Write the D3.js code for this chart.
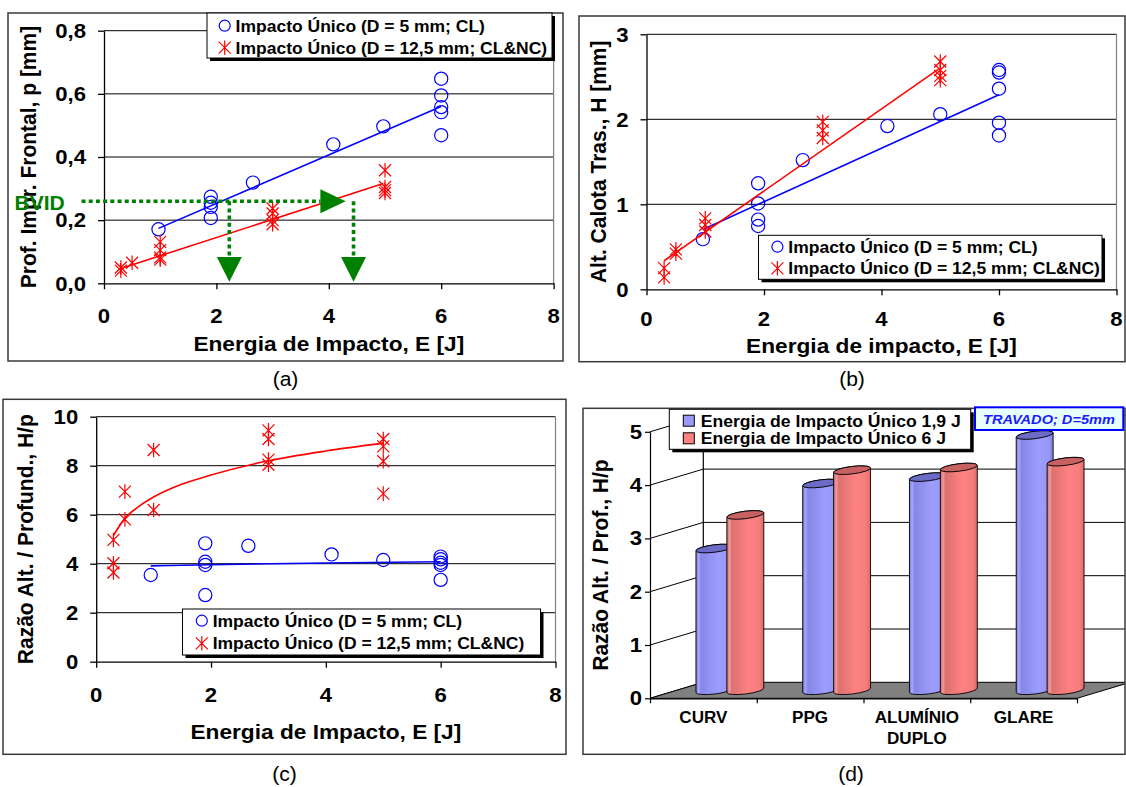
<!DOCTYPE html>
<html><head><meta charset="utf-8">
<script src="https://cdn.jsdelivr.net/npm/d3@7"></script>
<style>body{margin:0;background:#fff}svg{display:block}</style>
</head><body>
<svg id="c" width="1126" height="787"></svg>
<script>
// ---------------- DATA ----------------
const xTicks = [0, 2, 4, 6, 8];
const legendLabels = ["Impacto Único (D = 5 mm; CL)", "Impacto Único (D = 12,5 mm; CL&NC)"];

// (a) front indentation depth p [mm]
const aYTicks = [0, 0.2, 0.4, 0.6, 0.8];
const aYLabels = ["0,0", "0,2", "0,4", "0,6", "0,8"];
const aBlueE = [0.97, 1.9, 1.9, 1.9, 1.9, 2.65, 4.08, 4.97, 6, 6, 6, 6, 6];
const aBlueP = [0.171, 0.274, 0.255, 0.242, 0.207, 0.319, 0.44, 0.497, 0.648, 0.595, 0.558, 0.542, 0.469];
const aRedE = [0.3, 0.3, 0.5, 1, 1, 1, 1, 3, 3, 3, 3, 5, 5, 5, 5];
const aRedP = [0.05, 0.04, 0.065, 0.131, 0.105, 0.082, 0.075, 0.237, 0.221, 0.2, 0.187, 0.358, 0.305, 0.295, 0.286];
const aBlueFitE = [0.97, 6];
const aBlueFitP = [0.174, 0.56];
const aRedFitE = [0.3, 4.97];
const aRedFitP = [0.047, 0.316];
const bvidLevel = 0.26;
const bvidEnergies = [2.23, 4.44];

// (b) back cap height H [mm]
const bYTicks = [0, 1, 2, 3];
const bYLabels = ["0", "1", "2", "3"];
const bBlueE = [0.96, 1.9, 1.9, 1.9, 1.9, 2.66, 4.1, 5, 6, 6, 6, 6, 6];
const bBlueH = [0.59, 1.247, 1.01, 0.82, 0.745, 1.52, 1.92, 2.06, 2.58, 2.55, 2.36, 1.96, 1.81];
const bRedE = [0.3, 0.3, 0.5, 0.5, 1, 1, 1, 3, 3, 3, 5, 5, 5, 5];
const bRedH = [0.25, 0.14, 0.47, 0.42, 0.835, 0.756, 0.68, 1.97, 1.87, 1.78, 2.68, 2.58, 2.51, 2.46];
const bBlueFitE = [0.97, 6];
const bBlueFitH = [0.706, 2.29];
const bRedFitE = [0.3, 4.97];
const bRedFitH = [0.336, 2.59];

// (c) ratio H/p
const cYTicks = [0, 2, 4, 6, 8, 10];
const cYLabels = ["0", "2", "4", "6", "8", "10"];
const cBlueE = [0.95, 1.9, 1.9, 1.9, 1.9, 2.65, 4.1, 5, 6, 6, 6, 6, 6];
const cBlueR = [3.54, 4.83, 4.08, 3.95, 2.72, 4.73, 4.38, 4.15, 4.29, 4.18, 4.04, 3.95, 3.34];
const cRedE = [0.3, 0.3, 0.3, 0.5, 0.5, 1, 1, 3, 3, 3, 3, 5, 5, 5, 5];
const cRedR = [4.97, 4.02, 3.64, 6.94, 5.81, 8.64, 6.19, 9.44, 9.09, 8.25, 8.04, 9.09, 8.79, 8.18, 6.86];
const cBlueFitE = [0.95, 2, 4, 6];
const cBlueFitR = [3.91, 3.96, 4.03, 4.08];
const cRedFitE = [0.3, 0.5, 0.75, 1, 1.5, 2, 3, 4, 5];
const cRedFitR = [5.15, 5.85, 6.35, 6.72, 7.25, 7.62, 8.2, 8.6, 8.92];

// (d) 3D cylinders
const dCategories = [["CURV"], ["PPG"], ["ALUMÍNIO", "DUPLO"], ["GLARE"]];
const dSeriesNames = ["Energia de Impacto Único 1,9 J", "Energia de Impacto Único 6 J"];
const dValues19 = [2.66, 3.88, 4.0, 4.79];
const dValues6 = [3.29, 4.13, 4.18, 4.29];
const dYTicks = [0, 1, 2, 3, 4, 5];
const dNote = "TRAVADO; D=5mm";

// ---------------- DRAWING ----------------
const FONT = '"Liberation Sans", Arial, Helvetica, sans-serif';
const SX = 1.08;
const BLUE = "#0000ff", RED = "#ff0000", GREEN = "#008000";
const svg = d3.select("#c");
svg.append("rect").attr("width", 1126).attr("height", 787).attr("fill", "#fff");
const defs = svg.append("defs");

function label(g, x, y, s, o = {}) {
  const t = g.append("text")
    .attr("transform", `translate(${x},${y}) scale(${o.sx ?? SX},1)` + (o.rot ? ` rotate(${o.rot})` : ""))
    .attr("font-family", FONT).attr("font-size", o.size || 16)
    .attr("font-weight", o.weight || "bold")
    .attr("text-anchor", o.anchor || "start")
    .attr("fill", o.fill || "#000").text(s);
  if (o.style) t.attr("font-style", o.style);
  return t;
}
function starPath(cx, cy) {
  const d = 6, r = 7.3;
  return `M${cx - d},${cy - d}L${cx + d},${cy + d}M${cx - d},${cy + d}L${cx + d},${cy - d}M${cx},${cy - r}L${cx},${cy + r}`;
}

function scatterPanel(cfg) {
  const g = svg.append("g");
  const [fx, fy, fw, fh] = cfg.frame;
  g.append("rect").attr("x", fx).attr("y", fy).attr("width", fw).attr("height", fh)
    .attr("fill", "none").attr("stroke", "#3a3a3a").attr("stroke-width", 1.5);
  const x = d3.scaleLinear().domain([0, 8]).range([cfg.px0, cfg.px1]);
  const ymax = cfg.yTicks[cfg.yTicks.length - 1];
  const y = d3.scaleLinear().domain([0, ymax]).range([cfg.pyBottom, cfg.pyTop]);
  g.append("g").selectAll("line").data(cfg.yTicks.slice(1)).join("line")
    .attr("x1", x(0)).attr("x2", x(8)).attr("y1", d => y(d)).attr("y2", d => y(d))
    .attr("stroke", "#000").attr("stroke-width", 1);
  g.append("line").attr("x1", x(8)).attr("x2", x(8)).attr("y1", y(ymax)).attr("y2", y(0))
    .attr("stroke", "#808080").attr("stroke-width", 1.2);
  const xa = g.append("g").attr("transform", `translate(0,${y(0)})`)
    .call(d3.axisBottom(x).tickValues(xTicks).tickSize(6).tickSizeOuter(0).tickFormat(""));
  const ya = g.append("g").attr("transform", `translate(${x(0)},0)`)
    .call(d3.axisLeft(y).tickValues(cfg.yTicks).tickSize(6).tickSizeOuter(0).tickFormat(""));
  [xa, ya].forEach(a => a.selectAll("path,line").attr("stroke", "#000").attr("stroke-width", 1.3));
  xTicks.forEach(v => label(g, x(v), y(0) + cfg.tickGap, String(v), { size: 20.5, anchor: "middle" }));
  cfg.yTicks.forEach((v, i) => label(g, x(0) - 18, y(v) + 7.3, cfg.yLabels[i], { size: 20.5, anchor: "end" }));
  label(g, (x(0) + x(8)) / 2, cfg.xTitleY, cfg.xTitle, { size: 21, anchor: "middle" });
  label(g, cfg.yTitleX, (y(0) + y(ymax)) / 2, cfg.yTitle, { size: 21, anchor: "middle", rot: -90 });
  label(g, fx + fw / 2, cfg.tagY, cfg.tag, { size: 19.5, anchor: "middle", weight: "normal" });
  return { g, x, y };
}
function drawSeries(p, fitE, fitV, E, V, color, kind, curve) {
  const line = d3.line().x(d => p.x(d[0])).y(d => p.y(d[1])).curve(curve || d3.curveLinear);
  const pts = d3.zip(E, V);
  if (kind === "circle") {
    p.g.append("g").selectAll("circle").data(pts).join("circle")
      .attr("cx", d => p.x(d[0])).attr("cy", d => p.y(d[1])).attr("r", 6.6)
      .attr("fill", "none").attr("stroke", color).attr("stroke-width", 1.2);
  } else {
    p.g.append("g").selectAll("path").data(pts).join("path")
      .attr("d", d => starPath(p.x(d[0]), p.y(d[1])))
      .attr("fill", "none").attr("stroke", color).attr("stroke-width", 1.2);
  }
  p.g.append("path").attr("d", line(d3.zip(fitE, fitV)))
    .attr("fill", "none").attr("stroke", color).attr("stroke-width", 1.6);
}
function scatterLegend(g, x0, y0, w, h, rowY, markerX, textX) {
  g.append("rect").attr("x", x0 + 3).attr("y", y0 + 3).attr("width", w).attr("height", h).attr("fill", "#000");
  g.append("rect").attr("x", x0).attr("y", y0).attr("width", w).attr("height", h)
    .attr("fill", "#fff").attr("stroke", "#000").attr("stroke-width", 1);
  g.append("circle").attr("cx", markerX).attr("cy", rowY[0]).attr("r", 5.5)
    .attr("fill", "none").attr("stroke", BLUE).attr("stroke-width", 1.2);
  g.append("path").attr("d", starPath(markerX, rowY[1])).attr("fill", "none")
    .attr("stroke", RED).attr("stroke-width", 1.2);
  legendLabels.forEach((s, i) => label(g, textX, rowY[i] + 6, s, { size: 16.2 }));
}

// ----- Panel (a)
const pa = scatterPanel({
  frame: [8, 13, 555, 348], px0: 104, px1: 553.6, pyBottom: 283.3, pyTop: 30.7,
  yTicks: aYTicks, yLabels: aYLabels, tickGap: 39.5,
  xTitle: "Energia de Impacto, E [J]", xTitleY: 351,
  yTitle: "Prof. Impr. Frontal, p [mm]", yTitleX: 36, tag: "(a)", tagY: 386
});
drawSeries(pa, aBlueFitE, aBlueFitP, aBlueE, aBlueP, BLUE, "circle");
drawSeries(pa, aRedFitE, aRedFitP, aRedE, aRedP, RED, "star");
// BVID annotation
{
  const g = pa.g, x = pa.x, y = pa.y, yb = y(bvidLevel);
  const dash = { stroke: GREEN, "stroke-width": 3.6, "stroke-dasharray": "4 3.2" };
  const hl = g.append("line").attr("x1", x(-0.4)).attr("x2", x(3.85)).attr("y1", yb).attr("y2", yb);
  Object.entries(dash).forEach(([k, v]) => hl.attr(k, v));
  g.append("path").attr("d", `M${x(3.85)},${yb - 12}L${x(4.3)},${yb}L${x(3.85)},${yb + 12}Z`).attr("fill", GREEN);
  bvidEnergies.forEach(e => {
    const vl = g.append("line").attr("x1", x(e)).attr("x2", x(e)).attr("y1", yb).attr("y2", y(0.083));
    Object.entries(dash).forEach(([k, v]) => vl.attr(k, v));
    g.append("path").attr("d", `M${x(e) - 12.5},${y(0.083)}L${x(e) + 12.5},${y(0.083)}L${x(e)},${y(0.005)}Z`).attr("fill", GREEN);
  });
  label(g, 14.5, yb + 9, "BVID", { size: 19.5, fill: GREEN });
}
scatterLegend(pa.g, 207, 13, 345, 45, [25.7, 47.7], 224.7, 235.6);

// ----- Panel (b)
const pb = scatterPanel({
  frame: [579, 16, 546, 345.7], px0: 646.5, px1: 1116.5, pyBottom: 289.3, pyTop: 34.3,
  yTicks: bYTicks, yLabels: bYLabels, tickGap: 37,
  xTitle: "Energia de impacto, E [J]", xTitleY: 353,
  yTitle: "Alt. Calota Tras., H [mm]", yTitleX: 606, tag: "(b)", tagY: 386
});
drawSeries(pb, bBlueFitE, bBlueFitH, bBlueE, bBlueH, BLUE, "circle");
drawSeries(pb, bRedFitE, bRedFitH, bRedE, bRedH, RED, "star");
scatterLegend(pb.g, 758.5, 235.3, 343.5, 44, [246.7, 268.3], 777.4, 788.3);

// ----- Panel (c)
const pc = scatterPanel({
  frame: [3, 399.3, 563, 355], px0: 96.2, px1: 555.5, pyBottom: 661.7, pyTop: 416.7,
  yTicks: cYTicks, yLabels: cYLabels, tickGap: 40,
  xTitle: "Energia de Impacto, E [J]", xTitleY: 739,
  yTitle: "Razão Alt. / Profund., H/p", yTitleX: 33, tag: "(c)", tagY: 781
});
drawSeries(pc, cBlueFitE, cBlueFitR, cBlueE, cBlueR, BLUE, "circle", d3.curveMonotoneX);
drawSeries(pc, cRedFitE, cRedFitR, cRedE, cRedR, RED, "star", d3.curveMonotoneX);
scatterLegend(pc.g, 182.5, 609, 358, 46, [620.7, 643.3], 201.8, 212.7);

// ----- Panel (d)
{
  const g = svg.append("g");
  const F = [583, 408.3, 542, 346];
  g.append("clipPath").attr("id", "dclip").append("rect")
    .attr("x", F[0]).attr("y", F[1]).attr("width", F[2]).attr("height", F[3]);
  const DX = 53.3, DY = -16;
  const yF = d3.scaleLinear().domain([0, 5]).range([698.3, 431.8]);
  const keys = dCategories.map(c => c.join(" "));
  const xCat = d3.scaleBand().domain(keys).range([650, 1077]);
  const xLin = d3.scaleLinear().domain([0, keys.length]).range([650, 1077]);
  const inner = g.append("g").attr("clip-path", "url(#dclip)");
  // back wall
  inner.append("g").selectAll("line").data(dYTicks.slice(1)).join("line")
    .attr("x1", 650 + DX).attr("x2", 1140).attr("y1", d => yF(d) + DY).attr("y2", d => yF(d) + DY)
    .attr("stroke", "#000").attr("stroke-width", 1);
  inner.append("line").attr("x1", 650 + DX).attr("x2", 650 + DX)
    .attr("y1", yF(5) + DY).attr("y2", yF(0) + DY).attr("stroke", "#000").attr("stroke-width", 1.2);
  // side wall diagonals
  inner.append("g").selectAll("line").data(dYTicks).join("line")
    .attr("x1", 650).attr("x2", 650 + DX).attr("y1", d => yF(d)).attr("y2", d => yF(d) + DY)
    .attr("stroke", "#000").attr("stroke-width", 1);
  // floor
  const fl = [[650, yF(0)], [xLin(keys.length), yF(0)], [xLin(keys.length) + DX, yF(0) + DY], [650 + DX, yF(0) + DY]];
  inner.append("path").attr("d", "M" + fl.map(p => p.join(",")).join("L") + "Z")
    .attr("fill", "#808080").attr("stroke", "#000").attr("stroke-width", 1);
  // axes
  const ya = g.append("g").attr("transform", "translate(650,0)")
    .call(d3.axisLeft(yF).tickValues(dYTicks).tickSize(5).tickSizeOuter(0).tickFormat(""));
  const xa = g.append("g").attr("transform", `translate(0,${yF(0)})`)
    .call(d3.axisBottom(xLin).tickValues(d3.range(keys.length + 1)).tickSize(5).tickSizeOuter(0).tickFormat(""));
  [xa, ya].forEach(a => a.selectAll("path,line").attr("stroke", "#000").attr("stroke-width", 1.2));
  dYTicks.forEach(v => label(g, 642, yF(v) + 7, String(v), { size: 20.5, anchor: "end" }));
  dCategories.forEach((lines, i) => lines.forEach((s, j) =>
    label(g, xCat(keys[i]) + xCat.bandwidth() / 2, 723 + j * 20.6, s, { size: 15.8, anchor: "middle" })));
  label(g, 608, (yF(0) + yF(5)) / 2, "Razão Alt. / Prof., H/p", { size: 21, anchor: "middle", rot: -90 });
  label(g, F[0] + F[2] / 2 - 3, 781, "(d)", { size: 19.5, anchor: "middle", weight: "normal" });

  // gradients
  const grads = [
    ["gBlue", [[0, "#7676d4"], [0.07, "#a8a8ff"], [0.14, "#8686e6"], [0.6, "#9d9dff"], [0.88, "#9797f6"], [1, "#7c7cd8"]]],
    ["gRed", [[0, "#cf6666"], [0.07, "#f09a9a"], [0.14, "#dc7070"], [0.6, "#ff8282"], [0.88, "#f67c7c"], [1, "#d86c6c"]]]
  ];
  grads.forEach(([id, stops]) => {
    const lg = defs.append("linearGradient").attr("id", id).attr("x1", 0).attr("x2", 1).attr("y1", 0).attr("y2", 0);
    stops.forEach(s => lg.append("stop").attr("offset", s[0]).attr("stop-color", s[1]));
  });
  const topFill = ["#6c6cc6", "#c86262"];
  const offs = [-15.6, 15.3];
  const RX = 18.6, RY = 3.7, A = 7, ex = RX * Math.cos(A * Math.PI / 180), ey = RX * Math.sin(A * Math.PI / 180);
  const bars = [dValues19, dValues6].flatMap((vals, si) => vals.map((v, ci) => ({ si, ci, v })));
  const cyl = g.append("g").selectAll("g").data(bars).join("g");
  const cxOf = d => xCat(keys[d.ci]) + xCat.bandwidth() / 2 + DX / 2 + offs[d.si];
  const yB = yF(0) + DY / 2;
  cyl.append("path").attr("d", d => {
    const cx = cxOf(d), yT = yF(d.v) + DY / 2;
    return `M${cx - ex},${yT + ey}L${cx - ex},${yB + ey}A${RX},${RY} ${-A} 0 0 ${cx + ex},${yB - ey}` +
      `L${cx + ex},${yT - ey}A${RX},${RY} ${-A} 0 0 ${cx - ex},${yT + ey}Z`;
  }).attr("fill", d => d.si ? "url(#gRed)" : "url(#gBlue)").attr("stroke", "#000").attr("stroke-width", 0.9);
  cyl.append("ellipse").attr("cx", d => cxOf(d)).attr("cy", d => yF(d.v) + DY / 2)
    .attr("rx", RX).attr("ry", RY)
    .attr("transform", d => `rotate(${-A},${cxOf(d)},${yF(d.v) + DY / 2})`)
    .attr("fill", d => topFill[d.si]).attr("stroke", "#000").attr("stroke-width", 0.9);

  // frame
  g.append("rect").attr("x", F[0]).attr("y", F[1]).attr("width", F[2]).attr("height", F[3])
    .attr("fill", "none").attr("stroke", "#3a3a3a").attr("stroke-width", 1.5);
  // legend
  g.append("rect").attr("x", 672.3).attr("y", 412.3).attr("width", 301.4).attr("height", 40).attr("fill", "#000");
  g.append("rect").attr("x", 669.3).attr("y", 409.3).attr("width", 301.4).attr("height", 40)
    .attr("fill", "#fff").attr("stroke", "#000").attr("stroke-width", 1);
  const sq = ["#9999ff", "#ff8080"], rowY = [420.7, 438.3];
  dSeriesNames.forEach((s, i) => {
    g.append("rect").attr("x", 683.3).attr("y", rowY[i] - 5.5).attr("width", 11).attr("height", 11)
      .attr("fill", sq[i]).attr("stroke", "#000").attr("stroke-width", 1);
    label(g, 700.7, rowY[i] + 5.8, s, { size: 16.3 });
  });
  // note box
  g.append("rect").attr("x", 975).attr("y", 407.3).attr("width", 148.3).attr("height", 22.7)
    .attr("fill", "#e8ffff").attr("stroke", "#0000ff").attr("stroke-width", 2);
  label(g, 1049, 423.5, dNote, { size: 13.5, anchor: "middle", fill: "#1a1aff", style: "italic" });
}
</script>
</body></html>
